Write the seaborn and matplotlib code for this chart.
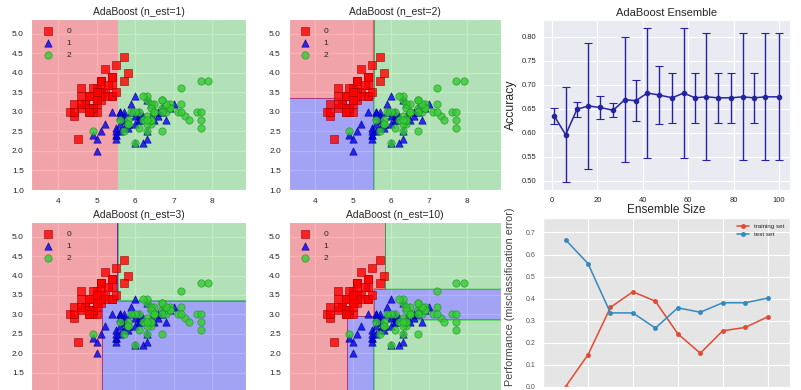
import numpy as np
import matplotlib
matplotlib.use("Agg")
import matplotlib.pyplot as plt
from matplotlib.colors import ListedColormap
import seaborn as sns

# iris sepal length / width (the two features shown in the region plots)
sepal_length = [
    5.1, 4.9, 4.7, 4.6, 5.0, 5.4, 4.6, 5.0, 4.4, 4.9, 5.4, 4.8, 4.8, 4.3, 5.8, 5.7, 5.4, 5.1, 5.7, 5.1,
    5.4, 5.1, 4.6, 5.1, 4.8, 5.0, 5.0, 5.2, 5.2, 4.7, 4.8, 5.4, 5.2, 5.5, 4.9, 5.0, 5.5, 4.9, 4.4, 5.1,
    5.0, 4.5, 4.4, 5.0, 5.1, 4.8, 5.1, 4.6, 5.3, 5.0,
    7.0, 6.4, 6.9, 5.5, 6.5, 5.7, 6.3, 4.9, 6.6, 5.2, 5.0, 5.9, 6.0, 6.1, 5.6, 6.7, 5.6, 5.8, 6.2, 5.6,
    5.9, 6.1, 6.3, 6.1, 6.4, 6.6, 6.8, 6.7, 6.0, 5.7, 5.5, 5.5, 5.8, 6.0, 5.4, 6.0, 6.7, 6.3, 5.6, 5.5,
    5.5, 6.1, 5.8, 5.0, 5.6, 5.7, 5.7, 6.2, 5.1, 5.7,
    6.3, 5.8, 7.1, 6.3, 6.5, 7.6, 4.9, 7.3, 6.7, 7.2, 6.5, 6.4, 6.8, 5.7, 5.8, 6.4, 6.5, 7.7, 7.7, 6.0,
    6.9, 5.6, 7.7, 6.3, 6.7, 7.2, 6.2, 6.1, 6.4, 7.2, 7.4, 7.9, 6.4, 6.3, 6.1, 7.7, 6.3, 6.4, 6.0, 6.9,
    6.7, 6.9, 5.8, 6.8, 6.7, 6.7, 6.3, 6.5, 6.2, 5.9]
sepal_width = [
    3.5, 3.0, 3.2, 3.1, 3.6, 3.9, 3.4, 3.4, 2.9, 3.1, 3.7, 3.4, 3.0, 3.0, 4.0, 4.4, 3.9, 3.5, 3.8, 3.8,
    3.4, 3.7, 3.6, 3.3, 3.4, 3.0, 3.4, 3.5, 3.4, 3.2, 3.1, 3.4, 4.1, 4.2, 3.1, 3.2, 3.5, 3.6, 3.0, 3.4,
    3.5, 2.3, 3.2, 3.5, 3.8, 3.0, 3.8, 3.2, 3.7, 3.3,
    3.2, 3.2, 3.1, 2.3, 2.8, 2.8, 3.3, 2.4, 2.9, 2.7, 2.0, 3.0, 2.2, 2.9, 2.9, 3.1, 3.0, 2.7, 2.2, 2.5,
    3.2, 2.8, 2.5, 2.8, 2.9, 3.0, 2.8, 3.0, 2.9, 2.6, 2.4, 2.4, 2.7, 2.7, 3.0, 3.4, 3.1, 2.3, 3.0, 2.5,
    2.6, 3.0, 2.6, 2.3, 2.7, 3.0, 2.9, 2.9, 2.5, 2.8,
    3.3, 2.7, 3.0, 2.9, 3.0, 3.0, 2.5, 2.9, 2.5, 3.6, 3.2, 2.7, 3.0, 2.5, 2.8, 3.2, 3.0, 3.8, 2.6, 2.2,
    3.2, 2.8, 2.8, 2.7, 3.3, 3.2, 2.8, 3.0, 2.8, 3.0, 2.8, 3.8, 2.8, 2.8, 2.6, 3.0, 3.4, 3.1, 3.0, 3.1,
    3.1, 3.1, 2.7, 3.2, 3.3, 3.0, 2.5, 3.0, 3.4, 3.0]
species = [0] * 50 + [1] * 50 + [2] * 50
class_names = ["0", "1", "2"]

# stump thresholds
split_x = [4.85, 5.15, 5.55, 5.85]
split_y = [2.85, 2.95, 3.35, 3.65]
n_estimators = [1, 2, 3, 10]

# ensemble size vs accuracy
num_est = [1, 6, 11, 16, 21, 27, 32, 37, 42, 47, 53, 58, 63, 68, 73, 79, 84, 89, 94, 100]
acc_mean = [0.635, 0.596, 0.649, 0.656, 0.653, 0.647, 0.669, 0.667, 0.683, 0.679,
            0.673, 0.683, 0.673, 0.675, 0.673, 0.673, 0.675, 0.673, 0.675, 0.675]
acc_std = [0.017, 0.099, 0.015, 0.131, 0.024, 0.015, 0.130, 0.043, 0.136, 0.060,
           0.052, 0.136, 0.052, 0.132, 0.052, 0.052, 0.132, 0.052, 0.132, 0.132]

# learning curve
train_size = [10, 20, 30, 40, 50, 60, 70, 80, 90, 100]
train_err = [0.0, 0.145, 0.360, 0.431, 0.388, 0.240, 0.152, 0.254, 0.269, 0.317]
test_err = [0.667, 0.559, 0.335, 0.335, 0.266, 0.358, 0.338, 0.381, 0.381, 0.402]


def predict(n, x, y):
    a, b, c, d = split_x
    lo, mid, hi, top = split_y
    if n == 1:
        return np.where(x < c, 0, 2)
    if n == 2:
        return np.where(x < c, np.where(y >= hi, 0, 1), 2)
    if n == 3:
        return np.where(x < b, 0, np.where(y >= hi, np.where(x < c, 0, 2), 1))
    z = np.where(y >= top, 2, np.where(y >= lo, 1, 2))
    z = np.where((x < d) & (y >= top), 0, z)
    z = np.where(x < c, np.where(y >= mid, 0, 1), z)
    z = np.where(x < a, 0, z)
    return z


sns.set_style("darkgrid")
plt.rcParams["font.family"] = ["Liberation Sans", "DejaVu Sans"]

fig = plt.figure(figsize=(8.01, 3.9), dpi=100)

colors = ["red", "blue", "limegreen"]
edge = ["#a00000", "#00007a", "#2a8a2a"]
markers = ["s", "^", "o"]
X = np.array(sepal_length)
Y = np.array(sepal_width)
lab = np.array(species)

res = 0.02
xx, yy = np.meshgrid(np.arange(X.min() - 1, X.max() + 1, res),
                     np.arange(Y.min() - 1, Y.max() + 1, res))

rects = [[0.0393, 0.5128, 0.2678, 0.4385], [0.3602, 0.5128, 0.2650, 0.4385],
         [0.0393, -0.0051, 0.2678, 0.4360], [0.3602, -0.0051, 0.2650, 0.4360]]

for i, (rect, n) in enumerate(zip(rects, n_estimators)):
    ax = fig.add_axes(rect)
    Z = predict(n, xx, yy)
    ax.contourf(xx, yy, Z, alpha=0.3, cmap=ListedColormap(colors))
    for k in range(3):
        ax.scatter(X[lab == k], Y[lab == k], c=colors[k], marker=markers[k],
                   s=28, alpha=0.8, label=class_names[k], linewidths=0.5,
                   edgecolors=edge[k])
    ax.set_xlim(xx.min(), xx.max())
    ax.set_ylim(yy.min(), yy.max())
    if i < 2:
        ax.set_yticks(np.arange(1.0, 5.01, 0.5))
    else:
        ax.set_yticks(np.arange(1.5, 5.01, 0.5))
        ax.tick_params(labelbottom=False)
    ax.tick_params(labelsize=6, pad=2)
    ax.set_title("AdaBoost (n_est=%d)" % n, fontsize=7.5, pad=3)
    ax.legend(loc="upper left", fontsize=6, scatterpoints=1, frameon=False,
              handletextpad=1.2, borderaxespad=0.6)

# ensemble accuracy
ax = fig.add_axes([0.678, 0.5128, 0.3084, 0.4359])
_, caps, _ = ax.errorbar(num_est, acc_mean, yerr=acc_std, fmt="-o", c="#2424a0",
                         capsize=3, lw=1.1, ms=3, elinewidth=1.0)
for cap in caps:
    cap.set_markeredgewidth(0.8)
ax.set_title("AdaBoost Ensemble", fontsize=8, pad=3)
ax.set_ylabel("Accuracy", fontsize=8.8, labelpad=3)
ax.set_xlabel("Ensemble Size", fontsize=8.5, labelpad=0)
ax.tick_params(labelsize=5.5, pad=1.5)

# learning curve, ggplot look
with plt.style.context("ggplot"):
    ax = fig.add_axes([0.678, 0.00846, 0.3084, 0.4333])
    ax.plot(train_size, train_err, marker="o", ms=2.5, lw=1.1, label="training set")
    ax.plot(train_size, test_err, marker="o", ms=2.5, lw=1.1, label="test set")
    ax.set_xlim(0, 110)
    top = max(max(train_err), max(test_err))
    bot = min(min(train_err), min(test_err))
    ax.set_ylim(bot - bot * 0.15, top + top * 0.15)
    ax.set_ylabel("Performance (misclassification error)", fontsize=7.8, color="#444444")
    ax.yaxis.set_label_coords(-0.115, 0.53)
    ax.tick_params(labelsize=5, pad=2, labelbottom=False)
    ax.legend(loc="upper right", numpoints=1, fontsize=4.5, frameon=False)

fig.savefig("out.png", dpi=100)
plt.close(fig)
